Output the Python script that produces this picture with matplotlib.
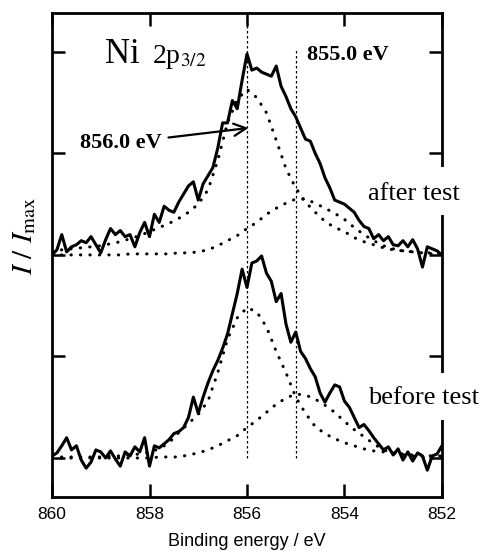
import numpy as np
import matplotlib
matplotlib.use("Agg")
import matplotlib.pyplot as plt
from matplotlib.patches import Rectangle

plt.rcParams['mathtext.fontset'] = 'stix'

# binding energy grid of the measured spectra, 860 -> 852 eV in 0.1 eV steps
energy = np.round(np.arange(860.0, 851.95, -0.1), 1)

after_test = [2.00, 2.05, 2.20, 2.03, 2.08, 2.10, 2.14, 2.12, 2.18, 2.10,
              2.02, 2.15, 2.26, 2.20, 2.24, 2.18, 2.20, 2.08, 2.22, 2.32,
              2.18, 2.40, 2.32, 2.48, 2.44, 2.42, 2.52, 2.60, 2.68, 2.72,
              2.54, 2.70, 2.78, 2.86, 3.05, 3.30, 3.30, 3.52, 3.44, 3.72,
              3.98, 3.82, 3.84, 3.80, 3.78, 3.76, 3.86, 3.66, 3.56, 3.44,
              3.36, 3.25, 3.14, 3.12, 3.00, 2.90, 2.76, 2.66, 2.54, 2.52,
              2.50, 2.46, 2.42, 2.34, 2.28, 2.26, 2.16, 2.20, 2.14, 2.18,
              2.10, 2.09, 2.14, 2.08, 2.15, 2.06, 1.88, 2.08, 2.06, 2.04,
              2.00]

before_test = [0.02, 0.05, 0.12, 0.20, 0.08, 0.12, -0.02, -0.10, -0.04, 0.08,
               0.06, 0.00, 0.07, -0.01, -0.08, 0.06, 0.02, 0.11, 0.06, 0.20,
               -0.08, 0.12, 0.10, 0.14, 0.18, 0.24, 0.26, 0.30, 0.40, 0.60,
               0.44, 0.60, 0.74, 0.86, 0.96, 1.08, 1.22, 1.42, 1.62, 1.86,
               1.68, 1.92, 1.94, 1.99, 1.82, 1.74, 1.54, 1.62, 1.32, 1.14,
               1.24, 1.05, 0.98, 0.88, 0.80, 0.64, 0.55, 0.64, 0.72, 0.70,
               0.56, 0.50, 0.40, 0.30, 0.33, 0.27, 0.20, 0.14, 0.08, 0.11,
               0.03, 0.09, -0.02, 0.06, -0.03, 0.05, 0.02, -0.12, 0.02, 0.04,
               0.12]

# fitted components, 860 -> 852 eV in 0.2 eV steps
energy_fit = np.round(np.arange(860.0, 851.95, -0.2), 1)

after_base = 2.0
after_856 = [0.04, 0.05, 0.06, 0.07, 0.08, 0.09, 0.11, 0.13, 0.16, 0.19,
             0.23, 0.27, 0.31, 0.36, 0.42, 0.50, 0.64, 0.93, 1.30, 1.53,
             1.63, 1.55, 1.40, 1.13, 0.85, 0.66, 0.52, 0.42, 0.33, 0.27,
             0.23, 0.17, 0.13, 0.10, 0.07, 0.05, 0.04, 0.03, 0.02, 0.02,
             0.01]
after_855 = [0.00, 0.00, 0.00, 0.00, 0.00, 0.00, 0.00, 0.00, 0.01, 0.01,
             0.01, 0.01, 0.01, 0.02, 0.02, 0.03, 0.05, 0.09, 0.14, 0.19,
             0.26, 0.32, 0.40, 0.46, 0.51, 0.55, 0.55, 0.51, 0.46, 0.41,
             0.35, 0.27, 0.20, 0.14, 0.09, 0.06, 0.04, 0.03, 0.02, 0.01,
             0.01]

before_base = 0.0
before_856 = [0.01, 0.01, 0.01, 0.01, 0.01, 0.01, 0.02, 0.02, 0.03, 0.04,
              0.06, 0.09, 0.15, 0.25, 0.34, 0.43, 0.56, 0.84, 1.17, 1.38,
              1.48, 1.44, 1.29, 1.05, 0.84, 0.60, 0.44, 0.31, 0.24, 0.19,
              0.15, 0.12, 0.09, 0.07, 0.06, 0.05, 0.04, 0.03, 0.03, 0.02,
              0.02]
before_855 = [0.00, 0.00, 0.00, 0.00, 0.00, 0.00, 0.00, 0.00, 0.00, 0.00,
              0.00, 0.01, 0.01, 0.01, 0.03, 0.05, 0.08, 0.12, 0.17, 0.22,
              0.30, 0.37, 0.45, 0.53, 0.59, 0.63, 0.62, 0.58, 0.52, 0.45,
              0.36, 0.28, 0.21, 0.14, 0.08, 0.05, 0.03, 0.02, 0.01, 0.01,
              0.01]

peak_positions = [856.0, 855.0]
xticks = [860, 858, 856, 854, 852]
yticks = [0, 1, 2, 3, 4]

fig = plt.figure(figsize=(4.83, 5.51), dpi=100)
ax = fig.add_axes([0.1077, 0.098, 0.8073, 0.8787])

dots = dict(color='black', lw=2.2, linestyle=(0, (0.1, 3.0)),
            dash_capstyle='round', zorder=2)
ax.plot(energy_fit, after_base + np.array(after_856), **dots)
ax.plot(energy_fit, after_base + np.array(after_855), **dots)
ax.plot(energy_fit, before_base + np.array(before_856), **dots)
ax.plot(energy_fit, before_base + np.array(before_855), **dots)

ax.plot(energy, after_test, color='black', lw=2.2, zorder=3)
ax.plot(energy, before_test, color='black', lw=2.2, zorder=3)

# peak position markers
ax.plot([peak_positions[0]] * 2, [0.0, 4.4], color='black', lw=0.9,
        linestyle=(0, (2, 2)), zorder=1)
ax.plot([peak_positions[1]] * 2, [0.0, 4.02], color='black', lw=0.9,
        linestyle=(0, (2, 2)), zorder=1)

ax.set_xlim(860, 852)
ax.set_ylim(-0.384, 4.384)
ax.set_xticks(xticks)
ax.set_yticks(yticks)
ax.set_yticklabels([])
ax.tick_params(direction='in', length=9.5, width=1.8, top=True, right=True,
               labelsize=12.5, pad=7)
for lab in ax.get_xticklabels():
    lab.set_family('Liberation Sans')
for s in ax.spines.values():
    s.set_linewidth(2.0)

ax.set_xlabel('Binding energy / eV', family='Liberation Sans', fontsize=13,
              labelpad=8)
ax.set_ylabel(r'$I\ /\ I_{\mathrm{max}}$', fontsize=21)
ax.yaxis.set_label_coords(-0.035, 0.54)

serif = 'Liberation Serif'
ax.text(858.91, 3.89, 'Ni', family=serif, fontsize=25, va='baseline')
ax.text(857.95, 3.89, r'2p$_{3/2}$', family=serif, fontsize=20, va='baseline')
ax.text(854.77, 3.97, '855.0 eV', family=serif, fontsize=16, weight='bold',
        va='center')
ax.annotate('856.0 eV', xy=(855.97, 3.25), xytext=(859.43, 3.10),
            family=serif, fontsize=16, weight='bold', va='center',
            arrowprops=dict(arrowstyle='->', lw=1.6, color='black',
                            mutation_scale=22, shrinkA=3, shrinkB=0))

# white gaps in the right frame behind the labels
for y0, y1 in [(2.39, 2.87), (0.37, 0.84)]:
    ax.add_patch(Rectangle((851.55, y0), 0.8, y1 - y0, facecolor='white',
                           edgecolor='none', clip_on=False, zorder=4))
ax.text(853.52, 2.60, 'after test', family=serif, fontsize=19, va='center',
        clip_on=False, zorder=5)
ax.text(853.52, 0.59, 'before test', family=serif, fontsize=19, va='center',
        clip_on=False, zorder=5)

fig.savefig('out.png', dpi=100)
